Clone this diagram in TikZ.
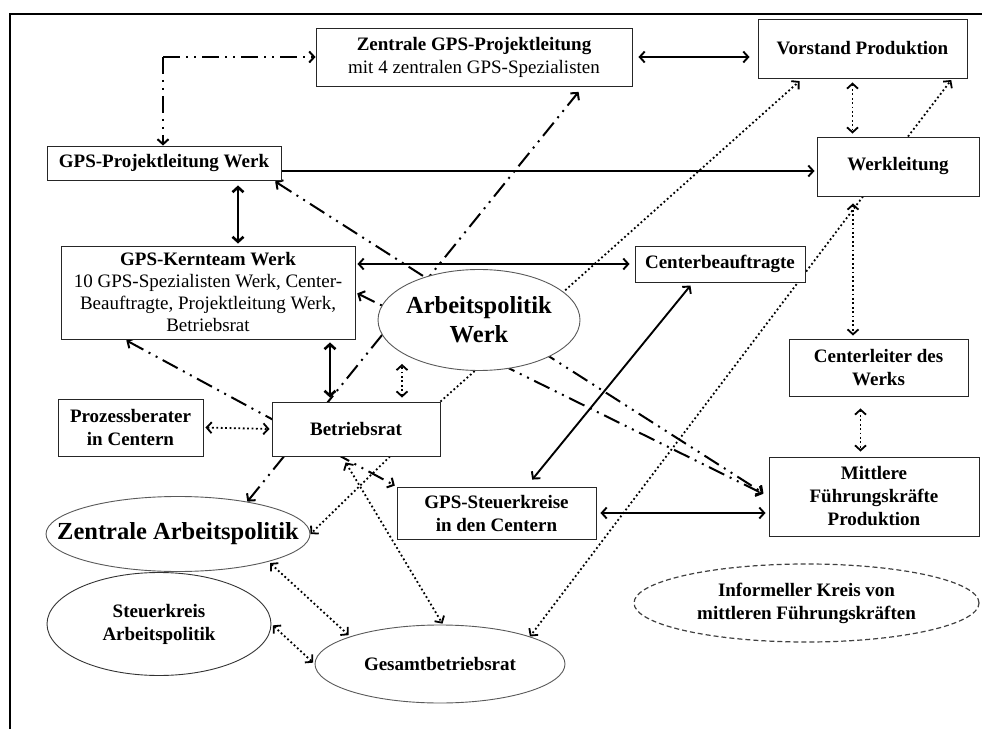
\documentclass[tikz,border=0pt]{standalone}
\usepackage{fontspec}
\setmainfont{Liberation Serif}
\usetikzlibrary{shapes.geometric,arrows.meta,backgrounds}

\newcommand{\boxfont}{\fontsize{19}{23}\selectfont}
\newcommand{\bigfont}{\fontsize{24.5}{29}\selectfont}

\tikzset{
  box/.style={draw=black!85, fill=white, line width=0.9pt, inner sep=1pt, align=center, font=\boxfont\bfseries},
  blob/.style={ellipse, draw=black!65, fill=white, line width=0.9pt, inner sep=0pt, align=center, font=\boxfont\bfseries},
  fullarrow/.style={line width=1.9pt},
  thickarrow/.style={line width=2.6pt},
  ddarrow/.style={line width=2pt, dash pattern=on 17pt off 6pt on 2pt off 6pt on 2pt off 6pt},
  dotarrow/.style={line width=1.8pt, dash pattern=on 1.8pt off 2.6pt},
}

\begin{document}
\begin{tikzpicture}[x=1pt,y=1pt, >={Straight Barb[length=5pt,width=11pt]}]

    \useasboundingbox (0,0) rectangle (982,729);

    % frame on top and left
    \draw[line width=2pt] (10,0) -- (10,715) -- (982,715);

    % boxes
    \node[box, minimum width=316pt, minimum height=58pt] (zgps) at (474,672)
      {Zentrale GPS-Projektleitung\\\mdseries mit 4 zentralen GPS-Spezialisten};
    \node[box, minimum width=209pt, minimum height=59pt] (vorstand) at (862.5,680.5) {Vorstand Produktion};
    \node[box, minimum width=234pt, minimum height=34pt] (gpspl) at (164,566) {GPS-Projektleitung Werk};
    \node[box, minimum width=162pt, minimum height=59pt] (werkl) at (898,562.5) {Werkleitung};
    \node[box, minimum width=294pt, minimum height=93pt, font=\fontsize{19}{22}\selectfont\bfseries] (kern) at (208,436.5)
      {GPS-Kernteam Werk\\\mdseries 10 GPS-Spezialisten Werk, Center-\\\mdseries Beauftragte, Projektleitung Werk,\\\mdseries Betriebsrat};
    \node[box, minimum width=170pt, minimum height=36pt] (centerb) at (720,465) {Centerbeauftragte};
    \node[box, minimum width=179pt, minimum height=57pt] (centerl) at (878.5,361.5) {Centerleiter des\\Werks};
    \node[box, minimum width=145pt, minimum height=57pt] (prozess) at (130.5,301.5) {Prozessberater\\in Centern};
    \node[box, minimum width=168pt, minimum height=54pt] (br) at (356,300) {Betriebsrat};
    \node[box, minimum width=199pt, minimum height=52pt] (steuer) at (496.5,216) {GPS-Steuerkreise\\in den Centern};
    \node[box, minimum width=210pt, minimum height=79pt] (mittlere) at (874,232.5) {Mittlere\\Führungskräfte\\Produktion};

    % ellipses
    \node[blob, minimum width=202pt, minimum height=101pt, inner xsep=-4pt, font=\bigfont\bfseries] (apwerk) at (479,409) {Arbeitspolitik\\Werk};
    \node[blob, minimum width=264pt, minimum height=75pt, inner xsep=-33pt, font=\bigfont\bfseries] (zap) at (178,195) {Zentrale Arbeitspolitik};
    \node[blob, minimum width=224pt, minimum height=103pt, draw=black!80] (skap) at (159,105) {Steuerkreis\\Arbeitspolitik};
    \node[blob, minimum width=250pt, minimum height=78pt] (gbr) at (440,65) {Gesamtbetriebsrat};
    \node[blob, minimum width=345pt, minimum height=78pt, draw=black!75, line width=1.2pt, dash pattern=on 5pt off 3pt] (infk) at (806.5,126)
      {Informeller Kreis von\\mittleren Führungskräften};

    \begin{scope}[on background layer]
      % solid connectors
      \draw[fullarrow,<->,shorten <=6pt,shorten >=8pt] (zgps.east) -- (zgps.east -| vorstand.west);
      \draw[fullarrow,->,shorten >=2pt] ([yshift=-8pt]gpspl.east) -- ([yshift=-8pt]gpspl.east -| werkl.west);
      \draw[thickarrow,<->,shorten <=5pt,shorten >=2pt] ([xshift=74pt]gpspl.south) -- ([xshift=74pt]gpspl.south |- kern.north);
      \draw[fullarrow,<->,shorten <=2pt,shorten >=5pt] (kern.east |- centerb.west) -- (centerb.west);
      \draw[thickarrow,<->,shorten <=3pt,shorten >=4pt] ([xshift=-26pt]br.north |- kern.south) -- ([xshift=-26pt]br.north);
      \draw[fullarrow,<->,shorten <=4pt,shorten >=9pt] ([xshift=-27pt]centerb.south) -- ([xshift=30pt]steuer.north);
      \draw[fullarrow,<->,shorten <=4pt,shorten >=3pt] (steuer.east) -- (steuer.east -| mittlere.west);

      % dash-dot-dot connectors
      \coordinate (knick) at (163,672);
      \draw[ddarrow,->] (knick) -- (zgps.west);
      \draw[ddarrow,->] (knick) -- (knick |- gpspl.north);
      \draw[ddarrow,<->,shorten <=2pt,shorten >=6pt] ([xshift=-8pt]gpspl.south east) -- (mittlere.west);
      \draw[ddarrow,<->,shorten <=2pt,shorten >=6pt] (kern.east) -- (mittlere.west);
      \draw[ddarrow,<->,shorten >=7pt] (zap.25) -- ([xshift=109pt]zgps.south);
      \draw[ddarrow,<->,shorten <=2pt,shorten >=2pt] ([xshift=64pt]kern.south west) -- (steuer.north west);

      % dotted connectors
      \draw[dotarrow,<->,shorten <=2pt,shorten >=2pt] (prozess.east) -- (br.west);
      \draw[dotarrow,<->,shorten <=4pt,shorten >=-7pt] ([xshift=46pt]br.north) -- ([xshift=46pt]br.north |- apwerk.south);
      \draw[dotarrow,->,shorten >=4pt] (br.north east) -- ([xshift=45pt]vorstand.south west);
      \draw[dotarrow,<->,shorten <=4pt,shorten >=3pt] ([xshift=-10pt]vorstand.south) -- ([xshift=-10pt]vorstand.south |- werkl.north);
      \draw[dotarrow,->,shorten >=2pt] ([xshift=10pt]werkl.north) -- ([xshift=-15pt]vorstand.south east);
      \draw[dotarrow,<->,shorten <=7pt,shorten >=3pt] ([xshift=-45pt]werkl.south) -- ([xshift=-45pt]werkl.south |- centerl.north);
      \draw[dotarrow,->] ([xshift=-35pt]werkl.south) -- (gbr.17);
      \draw[dotarrow,<->,shorten <=12pt,shorten >=5pt] ([xshift=-18pt]centerl.south) -- ([xshift=-18pt]centerl.south |- mittlere.north);
      \draw[dotarrow,<->,shorten <=7pt,shorten >=1pt] ([xshift=-14pt]br.south) -- ([xshift=3pt]gbr.north);
      \draw[dotarrow,->] ([xshift=34pt]br.south) -- (zap.east);
      \draw[dotarrow,<->,shorten <=2pt,shorten >=2pt] (zap.-17) -- (gbr.163);
      \draw[dotarrow,<->,shorten <=2pt,shorten >=2pt] (skap.east) -- (gbr.west);
    \end{scope}

\end{tikzpicture}
\end{document}
